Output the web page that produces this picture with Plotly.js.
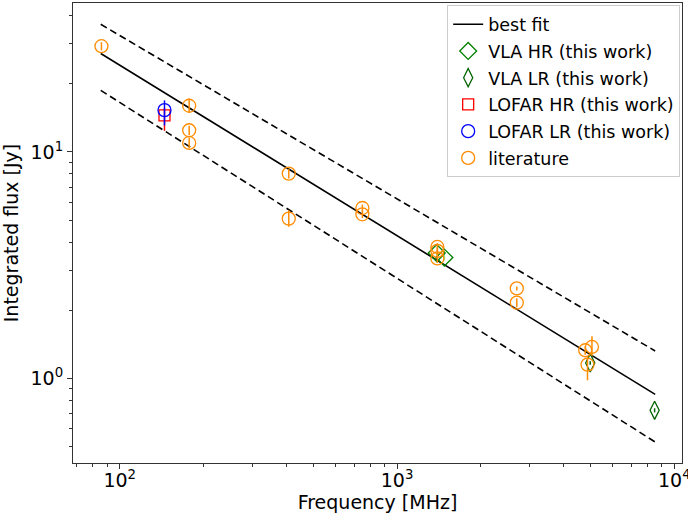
<!DOCTYPE html>
<html>
<head>
<meta charset="utf-8">
<script src="https://cdn.plot.ly/plotly-3.0.1.min.js"></script>
<style>html,body{margin:0;padding:0;background:#fff;}#chart{width:688px;height:517px;}</style>
</head>
<body>
<div id="chart"></div>
<script>
// Best-fit line and its envelope (two endpoints each, log-log straight lines)
const fitFreq = [85.4, 8531];
const fitFlux = [27.2, 0.852];
const upperFlux = [36.6, 1.324];
const lowerFlux = [18.7, 0.525];

// VLA HR (this work)
const vlaHRFreq = [1391, 1482];
const vlaHRFlux = [3.58, 3.42];
const vlaHRErr = [0.1, 0.1];

// VLA LR (this work)
const vlaLRFreq = [4975, 8493];
const vlaLRFlux = [1.172, 0.7245];
const vlaLRErr = [0.02, 0.015];

// LOFAR HR (this work)
const lofarHRFreq = [145];
const lofarHRFlux = [14.5];
const lofarHRErrPlus = [1.1];
const lofarHRErrMinus = [2.1];

// LOFAR LR (this work)
const lofarLRFreq = [145];
const lofarLRFlux = [15.3];
const lofarLRErrPlus = [1.6];
const lofarLRErrMinus = [2.2];

// Literature
const litFreq = [85.9, 178, 178, 178, 407, 407, 750, 750, 1398, 1398, 1398, 2704, 2704, 4772, 5047, 4864];
const litFlux = [29.3, 16.0, 12.47, 10.96, 8.03, 5.08, 5.66, 5.31, 3.81, 3.66, 3.39, 2.50, 2.165, 1.334, 1.379, 1.153];
const litErrPlus = [1.2, 1.2, 0.6, 0.6, 0.4, 0.45, 0.2, 0.2, 0.15, 0.15, 0.15, 0.05, 0.1, 0.06, 0.16, 0.1];
const litErrMinus = [1.2, 1.1, 0.6, 0.6, 0.4, 0.4, 0.2, 0.2, 0.15, 0.15, 0.15, 0.05, 0.1, 0.06, 0.12, 0.17];

// Tick labels
const xTickVals = [100, 1000, 10000];
const xTickText = ['10<sup>2</sup>', '10<sup>3</sup>', '10<sup>4</sup>'];
const yTickVals = [1, 10];
const yTickText = ['10<sup>0</sup>', '10<sup>1</sup>'];

function minorTicks(decades) {
  const out = [];
  decades.forEach(function (d) { for (let k = 2; k <= 9; k++) out.push(k * d); });
  return out;
}

const orange = '#ff8c00';

const traces = [
  {x: fitFreq, y: upperFlux, mode: 'lines', line: {color: 'black', width: 1.6, dash: '7px,4px'}, showlegend: false, hoverinfo: 'skip'},
  {x: fitFreq, y: lowerFlux, mode: 'lines', line: {color: 'black', width: 1.6, dash: '7px,4px'}, showlegend: false, hoverinfo: 'skip'},
  {x: fitFreq, y: fitFlux, mode: 'lines', name: 'best fit', legendgroup: 'g1', line: {color: 'black', width: 1.6}},
  {x: vlaHRFreq, y: vlaHRFlux, mode: 'markers', name: 'VLA HR (this work)', legendgroup: 'g2',
   marker: {symbol: 'diamond-open', size: 13, color: 'green', line: {width: 1.3}},
   error_y: {type: 'data', array: vlaHRErr, color: 'lightgreen', thickness: 1.5, width: 0}},
  {x: vlaLRFreq, y: vlaLRFlux, mode: 'markers', name: 'VLA LR (this work)', legendgroup: 'g3',
   marker: {symbol: 'diamond-tall-open', size: 13, color: 'darkgreen', line: {width: 1.3}},
   error_y: {type: 'data', array: vlaLRErr, color: 'darkgreen', thickness: 1.5, width: 0}},
  {x: lofarHRFreq, y: lofarHRFlux, mode: 'markers', name: 'LOFAR HR (this work)', legendgroup: 'g4',
   marker: {symbol: 'square-open', size: 11, color: 'red', line: {width: 1.3}},
   error_y: {type: 'data', array: lofarHRErrPlus, arrayminus: lofarHRErrMinus, color: 'red', thickness: 1.5, width: 0}},
  {x: lofarLRFreq, y: lofarLRFlux, mode: 'markers', name: 'LOFAR LR (this work)', legendgroup: 'g5',
   marker: {symbol: 'circle-open', size: 13, color: 'blue', line: {width: 1.3}},
   error_y: {type: 'data', array: lofarLRErrPlus, arrayminus: lofarLRErrMinus, color: 'blue', thickness: 1.5, width: 0}},
  {x: litFreq, y: litFlux, mode: 'markers', name: 'literature', legendgroup: 'g6',
   marker: {symbol: 'circle-open', size: 13, color: orange, line: {width: 1.3}},
   error_y: {type: 'data', array: litErrPlus, arrayminus: litErrMinus, color: orange, thickness: 1.5, width: 0}}
];

const axisCommon = {
  type: 'log',
  showgrid: false,
  zeroline: false,
  showline: true,
  mirror: true,
  linecolor: '#333',
  linewidth: 1,
  ticks: 'outside',
  ticklen: 5,
  tickwidth: 1,
  tickcolor: '#333',
  tickmode: 'array',
  ticklabeloverflow: 'allow',
  tickfont: {family: 'DejaVu Sans', size: 19, color: 'black'}
};

const layout = {
  width: 688,
  height: 517,
  margin: {l: 73, r: 6, t: 3, b: 54},
  paper_bgcolor: 'white',
  plot_bgcolor: 'white',
  font: {family: 'DejaVu Sans', color: 'black'},
  xaxis: Object.assign({}, axisCommon, {
    range: [1.8314, 4.0278],
    tickvals: xTickVals,
    ticktext: xTickText,
    ticklabelstandoff: -5,
    minor: {tickmode: 'array', tickvals: minorTicks([10, 100, 1000]), ticks: 'outside', ticklen: 3, tickcolor: '#333', showgrid: false},
    title: {text: 'Frequency [MHz]', font: {family: 'DejaVu Sans', size: 19}, standoff: 2}
  }),
  yaxis: Object.assign({}, axisCommon, {
    range: [-0.3725, 1.6575],
    tickvals: yTickVals,
    ticktext: yTickText,
    minor: {tickmode: 'array', tickvals: minorTicks([0.1, 1, 10]), ticks: 'outside', ticklen: 3, tickcolor: '#333', showgrid: false},
    title: {text: 'Integrated flux [Jy]', font: {family: 'DejaVu Sans', size: 19}, standoff: 6}
  }),
  legend: {
    x: 0.997, y: 0.995, xanchor: 'right', yanchor: 'top',
    bgcolor: 'rgba(255,255,255,0.85)', bordercolor: '#cccccc', borderwidth: 1,
    tracegroupgap: 1,
    font: {family: 'DejaVu Sans', size: 17.5, color: 'black'}
  },
  showlegend: true
};

Plotly.newPlot('chart', traces, layout, {displayModeBar: false, staticPlot: true});
</script>
</body>
</html>
